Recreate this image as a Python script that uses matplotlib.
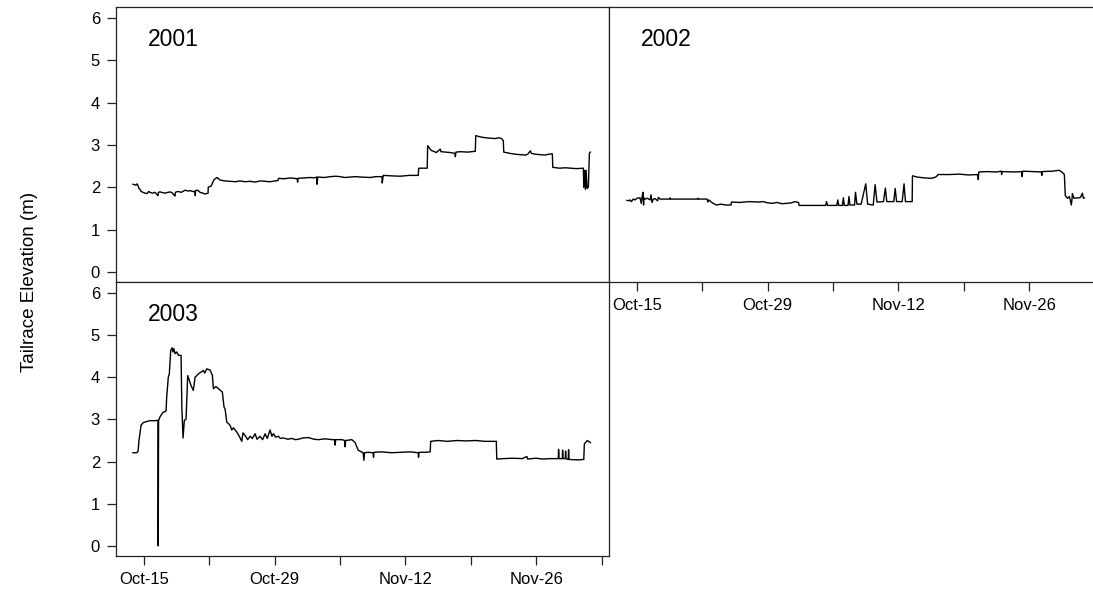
import matplotlib
matplotlib.use('Agg')
import matplotlib.pyplot as plt
import numpy as np

plt.rcParams['font.family'] = ['Liberation Sans', 'DejaVu Sans']

# days since Oct-15, tailrace elevation (m)
days_2001 = [-1.18, -0.86, -0.75, -0.64, -0.54, -0.43, -0.32, -0.11, 0.1, 0.32, 0.5, 0.64, 0.9, 1.18,
             1.5, 1.55, 1.71, 2.2, 2.79, 3.0, 3.32, 3.36, 3.64, 4.0, 4.39, 4.7, 4.93, 5.2, 5.47, 5.49,
             5.52, 5.75, 6.0, 6.3, 6.54, 6.86, 6.88, 7.2, 7.29, 7.5, 7.82, 8.15, 8.6, 9.22, 9.8, 10.29,
             10.8, 11.36, 11.9, 12.43, 13.0, 13.5, 14.36, 14.4, 15.0, 15.65, 16.1, 16.4, 16.45, 16.5,
             17.2, 17.79, 18.2, 18.5, 18.54, 18.6, 19.3, 19.94, 20.5, 21.01, 21.5, 22.08, 22.61, 23.3,
             24.22, 24.8, 25.5, 25.51, 25.62, 26.4, 27.44, 28.4, 29.37, 29.42, 30.33, 30.38, 30.76,
             31.0, 31.3, 31.73, 31.8, 32.26, 32.8, 33.3, 33.35, 33.4, 33.87, 34.7, 35.48, 35.53, 36.0,
             36.55, 37.1, 37.62, 38.0, 38.3, 38.48, 38.53, 39.2, 39.76, 40.3, 40.84, 41.1, 41.37, 41.5,
             41.91, 42.5, 42.98, 43.3, 43.73, 43.78, 44.5, 45.1, 45.66, 46.3, 47.05, 47.1, 47.2, 47.27,
             47.35, 47.45, 47.59, 47.7, 47.8]
elev_2001 = [2.07, 2.05, 2.08, 2.04, 1.97, 1.95, 1.9, 1.88, 1.86, 1.85, 1.9, 1.88, 1.86, 1.88,
             1.8, 1.88, 1.89, 1.86, 1.89, 1.87, 1.79, 1.88, 1.9, 1.88, 1.93, 1.91, 1.92, 1.9, 1.9, 1.8,
             1.92, 1.93, 1.88, 1.86, 1.84, 1.86, 2.0, 2.03, 2.08, 2.18, 2.23, 2.17, 2.15, 2.14, 2.13, 2.15,
             2.13, 2.14, 2.12, 2.15, 2.14, 2.13, 2.16, 2.21, 2.2, 2.22, 2.21, 2.2, 2.12, 2.21,
             2.22, 2.23, 2.22, 2.24, 2.07, 2.24, 2.23, 2.25, 2.26, 2.25, 2.23, 2.24, 2.25, 2.24,
             2.23, 2.25, 2.25, 2.1, 2.28, 2.27, 2.26, 2.28, 2.28, 2.45, 2.45, 2.98, 2.87,
             2.85, 2.82, 2.9, 2.84, 2.83, 2.82, 2.8, 2.72, 2.83, 2.84, 2.83, 2.85, 3.22, 3.19,
             3.17, 3.16, 3.15, 3.17, 3.15, 3.1, 2.83, 2.8, 2.78, 2.77, 2.76, 2.78, 2.86, 2.8,
             2.78, 2.77, 2.76, 2.78, 2.79, 2.47, 2.45, 2.46, 2.45, 2.44, 2.45, 2.0, 2.4, 1.95,
             2.4, 1.97, 2.0, 2.8, 2.83]

days_2002 = [-1.07, -0.9, -0.75, -0.6, -0.4, -0.21, 0.0, 0.32, 0.45, 0.55, 0.64, 0.7, 0.75, 0.86,
             1.1, 1.39, 1.5, 1.6, 1.75, 1.93, 2.2, 2.3, 2.47, 3.5, 3.55, 3.6, 5.0, 6.5, 6.55, 6.6, 7.5,
             7.6, 7.7, 7.9, 8.15, 8.5, 9.0, 9.5, 10.07, 10.12, 11.0, 12.0, 13.0, 13.5, 14.0, 14.5, 15.0,
             15.5, 16.08, 16.5, 16.93, 17.3, 17.36, 18.5, 19.94, 20.2, 20.3, 20.4, 21.4, 21.5, 21.6,
             22.0, 22.1, 22.2, 22.6, 22.7, 22.8, 23.3, 23.4, 23.55, 24.0, 24.5, 24.7, 25.3, 25.5, 25.7,
             26.4, 26.6, 26.75, 27.5, 27.65, 27.8, 28.4, 28.6, 28.75, 29.47, 29.5, 30.0, 30.8, 31.5,
             32.0, 32.26, 33.5, 34.5, 35.5, 36.5, 36.55, 36.6, 37.5, 38.5, 39.0, 39.05, 39.1, 40.5,
             41.2, 41.25, 41.3, 42.4, 43.3, 43.35, 43.4, 44.5, 45.2, 45.5, 45.77, 45.87, 46.1, 46.3,
             46.52, 46.6, 46.62, 46.8, 47.3, 47.5, 47.7, 47.8, 47.91]
elev_2002 = [1.69, 1.68, 1.7, 1.66, 1.72, 1.7, 1.74, 1.75, 1.62, 1.78, 1.88, 1.58, 1.75, 1.72,
             1.74, 1.7, 1.82, 1.64, 1.72, 1.73, 1.68, 1.76, 1.72, 1.72, 1.75, 1.72, 1.72, 1.72, 1.74, 1.72, 1.72,
             1.65, 1.7, 1.66, 1.62, 1.58, 1.6, 1.58, 1.58, 1.65, 1.64, 1.66, 1.65, 1.66, 1.63, 1.62, 1.64,
             1.61, 1.62, 1.63, 1.66, 1.64, 1.57, 1.57, 1.57, 1.57, 1.66, 1.57, 1.57, 1.7, 1.57,
             1.57, 1.75, 1.57, 1.57, 1.78, 1.58, 1.58, 1.88, 1.6, 1.6, 2.08, 1.6, 1.58, 2.06, 1.65,
             1.66, 1.98, 1.66, 1.66, 1.97, 1.66, 1.66, 2.08, 1.66, 1.66, 2.27, 2.24, 2.22, 2.21,
             2.24, 2.3, 2.3, 2.31, 2.29, 2.3, 2.18, 2.36, 2.37, 2.36, 2.38, 2.3, 2.37, 2.36,
             2.37, 2.25, 2.38, 2.37, 2.36, 2.28, 2.37, 2.38, 2.4, 2.36, 2.3, 1.8, 1.74, 1.78,
             1.58, 1.75, 1.85, 1.74, 1.75, 1.76, 1.86, 1.74, 1.75]

days_2003 = [-1.18, -0.8, -0.64, -0.54, -0.43, -0.32, -0.1, 0.11, 0.64, 1.18, 1.5, 1.52, 1.54, 1.56,
             1.71, 2.04, 2.36, 2.43, 2.6, 2.71, 2.86, 3.0, 3.1, 3.2, 3.32, 3.5, 3.7, 3.97, 4.05, 4.18,
             4.32, 4.5, 4.68, 4.82, 5.04, 5.28, 5.47, 5.82, 6.1, 6.36, 6.5, 6.72, 7.07, 7.32, 7.43, 7.7,
             7.96, 8.39, 8.57, 8.68, 8.86, 9.22, 9.4, 9.57, 9.94, 10.2, 10.47, 10.6, 10.83, 11.1, 11.36,
             11.6, 11.9, 12.1, 12.43, 12.7, 12.97, 13.2, 13.5, 13.7, 13.86, 14.1, 14.39, 14.6, 14.93,
             15.4, 15.83, 16.2, 16.54, 17.0, 17.61, 18.2, 18.68, 19.4, 20.12, 20.4, 20.47, 20.52, 21.19,
             21.5, 21.54, 21.6, 22.26, 22.61, 22.94, 23.47, 23.55, 23.62, 24.0, 24.54, 24.58, 24.62,
             25.5, 26.5, 27.5, 28.5, 29.37, 29.4, 29.45, 30.1, 30.65, 30.7, 31.5, 32.5, 33.5, 34.5,
             35.5, 36.5, 37.73, 37.78, 38.5, 39.5, 40.5, 41.0, 41.1, 42.0, 42.7, 43.5, 44.37, 44.4,
             44.45, 44.8, 44.83, 44.88, 45.12, 45.15, 45.2, 45.44, 45.47, 45.52, 46.5, 47.1, 47.16,
             47.48, 47.8]
elev_2003 = [2.21, 2.21, 2.24, 2.5, 2.67, 2.86, 2.92, 2.94, 2.97, 2.97, 2.98, 0.0, 1.5, 2.97,
             3.06, 3.17, 3.2, 3.53, 4.0, 4.08, 4.63, 4.7, 4.6, 4.68, 4.56, 4.6, 4.52, 4.52, 3.3, 2.56,
             2.98, 3.0, 4.04, 3.95, 3.8, 3.69, 4.0, 4.08, 4.12, 4.16, 4.1, 4.2, 4.17, 4.05, 3.73, 3.78,
             3.73, 3.65, 3.29, 3.25, 2.94, 2.86, 2.75, 2.8, 2.7, 2.6, 2.48, 2.68, 2.62, 2.52, 2.6,
             2.55, 2.66, 2.53, 2.6, 2.52, 2.66, 2.55, 2.75, 2.6, 2.66, 2.58, 2.6, 2.55, 2.56,
             2.53, 2.55, 2.52, 2.53, 2.56, 2.57, 2.53, 2.52, 2.54, 2.52, 2.52, 2.39, 2.52, 2.52,
             2.5, 2.35, 2.5, 2.52, 2.45, 2.27, 2.21, 2.03, 2.21, 2.22, 2.21, 2.1, 2.22,
             2.23, 2.21, 2.22, 2.23, 2.21, 2.1, 2.22, 2.22, 2.23, 2.48, 2.5, 2.48, 2.5, 2.49,
             2.5, 2.48, 2.48, 2.06, 2.07, 2.08, 2.07, 2.12, 2.06, 2.08, 2.06, 2.07, 2.07, 2.29,
             2.07, 2.07, 2.27, 2.07, 2.07, 2.25, 2.07, 2.05, 2.28, 2.05, 2.04, 2.05, 2.42,
             2.5, 2.45]

tick_days = [0, 7, 14, 21, 28, 35, 42, 49]
tick_labels = ['Oct-15', '', 'Oct-29', '', 'Nov-12', '', 'Nov-26', '']
y_ticks = [0, 1, 2, 3, 4, 5, 6]

W, H = 1093, 596
fig = plt.figure(figsize=(W / 100, H / 100), dpi=100)

pw, ph = 493 / W, 275 / H
ax01 = fig.add_axes([116 / W, 1 - 282 / H, pw, ph])
ax02 = fig.add_axes([609 / W, 1 - 282 / H, pw, ph])
ax03 = fig.add_axes([116 / W, 1 - 556 / H, pw, 274 / H])

panels = [(ax01, days_2001, elev_2001, '2001'),
          (ax02, days_2002, elev_2002, '2002'),
          (ax03, days_2003, elev_2003, '2003')]

for ax, d, v, year in panels:
    ax.plot(d, v, color='black', lw=1.0)
    ax.set_xlim(-3.0, 49.8)
    ax.set_ylim(-0.24, 6.26)
    ax.text(0.065, 0.88, year, transform=ax.transAxes, fontsize=16.5,
            ha='left', va='center')
    for s in ax.spines.values():
        s.set_linewidth(0.9)
        s.set_color('#222222')
    ax.tick_params(length=6.5, width=0.9, labelsize=12, pad=5, color='#222222')
    ax.set_xticks(tick_days)
    ax.set_yticks(y_ticks)

# y axis only on left panels, x axis only on bottom of each column
ax01.set_xticks([])
ax02.set_yticks([])
ax01.set_yticklabels([str(t) for t in y_ticks])
ax03.set_yticklabels([str(t) for t in y_ticks])
ax02.set_xticklabels(tick_labels)
ax03.set_xticklabels(tick_labels)

fig.text(30 / W, 1 - 282 / H, 'Tailrace Elevation (m)', rotation=90,
         ha='center', va='center', fontsize=13.5)

fig.savefig('out.png', dpi=100)
